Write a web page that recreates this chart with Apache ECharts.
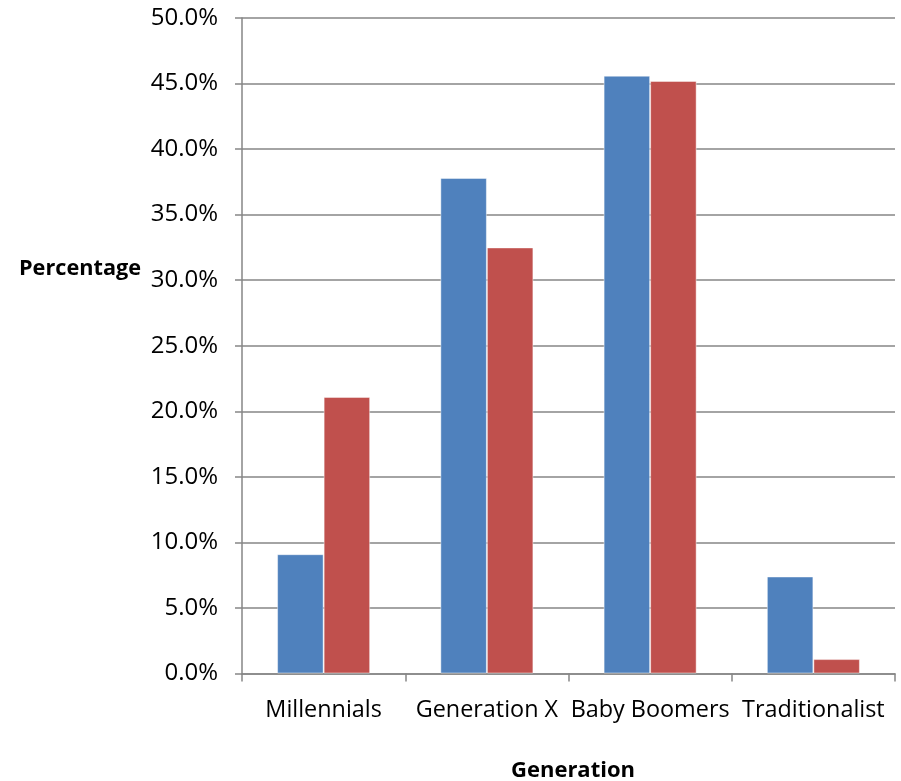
<!DOCTYPE html>
<html>
<head>
<meta charset="utf-8">
<script src="https://cdn.jsdelivr.net/npm/echarts@6/dist/echarts.min.js"></script>
<style>
  html, body { margin: 0; padding: 0; background: #fff; }
  #chart { width: 901px; height: 781px; }
</style>
</head>
<body>
<div id="chart"></div>
<script>
// categories and values (percent)
var generations = ['Millennials', 'Generation X', 'Baby Boomers', 'Traditionalist'];
var seriesA = [9.1, 37.8, 45.6, 7.4];
var seriesB = [21.1, 32.5, 45.2, 1.1];

var font = '"Open Sans", "Noto Sans", sans-serif';
var gray = '#868686';

var myChart = echarts.init(document.getElementById('chart'));
myChart.setOption({
    animation: false,
    title: [
        {
            text: 'Percentage',
            left: 14, top: 253,
            textStyle: { fontFamily: font, fontSize: 21.7, fontWeight: 'bold', color: '#000' }
        },
        {
            text: 'Generation',
            left: 568, top: 755, textAlign: 'center',
            textStyle: { fontFamily: font, fontSize: 22, fontWeight: 'bold', color: '#000' }
        }
    ],
    grid: { left: 242, right: 6, top: 18, bottom: 107.5, containLabel: false },
    xAxis: {
        type: 'category',
        data: generations,
        axisLine: { lineStyle: { color: gray, width: 1.5 } },
        axisTick: { show: true, length: 8, interval: 0, lineStyle: { color: gray, width: 1.5 } },
        axisLabel: { margin: 25, color: '#000', fontFamily: font, fontSize: 23.4, interval: 0 }
    },
    yAxis: {
        type: 'value',
        min: 0, max: 50, interval: 5,
        axisLine: { show: true, lineStyle: { color: gray, width: 1.5 } },
        axisTick: { show: true, length: 7, lineStyle: { color: gray, width: 1.5 } },
        splitLine: { lineStyle: { color: gray, width: 1.5 } },
        axisLabel: {
            margin: 24, color: '#000', fontFamily: font, fontSize: 24,
            formatter: function (v) { return v.toFixed(1) + '%'; }
        }
    },
    series: [
        {
            type: 'bar',
            data: seriesA,
            barGap: '0%',
            barCategoryGap: '43%',
            itemStyle: { color: '#4F81BD', borderColor: 'rgba(255,255,255,0.45)', borderWidth: 1 }
        },
        {
            type: 'bar',
            data: seriesB,
            itemStyle: { color: '#C0504D', borderColor: 'rgba(255,255,255,0.45)', borderWidth: 1 }
        }
    ]
});
</script>
</body>
</html>
